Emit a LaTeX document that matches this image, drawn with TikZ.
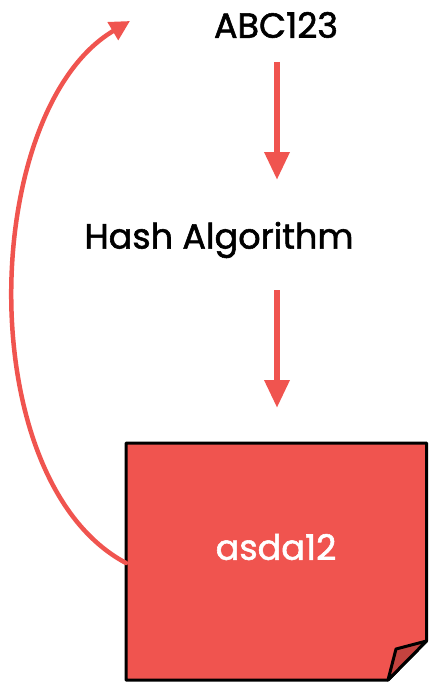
\documentclass[tikz,border=0pt]{standalone}
\usepackage{fontspec}
\setmainfont{Poppins}[BoldFont=Poppins, BoldFeatures={FakeBold=1.6}]
\usetikzlibrary{arrows.meta}
\definecolor{accent}{HTML}{F0544F}
\definecolor{folddark}{HTML}{C4433F}
\tikzset{
  label/.style={inner sep=0pt, font=\fontsize{35}{40}\selectfont\bfseries},
  flow/.style={draw=accent, line width=6.5pt, -{Triangle[width=24pt,length=28pt]}},
  back/.style={draw=accent, line width=4.5pt, line cap=round, -{Triangle[width=20pt,length=20pt]}},
  card/.style={fill=accent, draw=black, line width=3pt, line join=round}
}
\begin{document}
\begin{tikzpicture}[x=1pt,y=-1pt]
  \useasboundingbox (0,0) rectangle (428,682);
  % note card with folded corner
  \draw[card] (126,443) -- (426.5,443) -- (426.5,641) -- (388,680) -- (126,680) -- cycle;
  \draw[card, fill=folddark] (388,680) -- (396,649) -- (426.5,641) -- cycle;
  \node[label, text=white] (out) at (276,547) {asda12};
  \node[label] (in) at (276,25) {ABC123};
  \node[label] (hash) at (219,240) {Hash Algorithm};
  \coordinate (a1s) at (277,62);
  \coordinate (a1e) at (277,180);
  \coordinate (a2s) at (277,290);
  \coordinate (a2e) at (277,408);
  \coordinate (bs) at (126,563);
  \coordinate (be) at (130,21);
  \draw[flow] (a1s) -- (a1e);
  \draw[flow] (a2s) -- (a2e);
  \draw[back] (bs) .. controls (-30,480) and (-20,110) .. (be);
\end{tikzpicture}
\end{document}
